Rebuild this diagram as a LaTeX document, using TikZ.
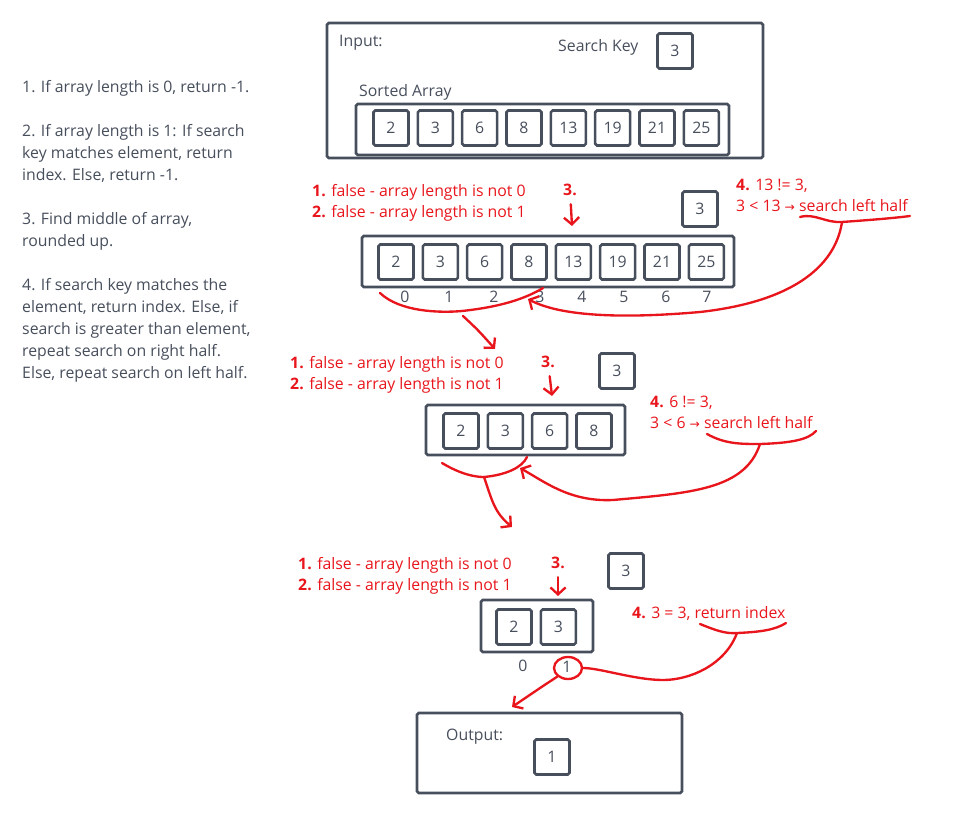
\documentclass[tikz,border=0pt]{standalone}
\usepackage{fontspec}
\setmainfont{Open Sans}
\newfontfamily\arrowfont{DejaVu Sans}
\usepackage{tikz}
\usetikzlibrary{positioning, arrows.meta, shapes.geometric}
\definecolor{ink}{HTML}{474E5C}
\definecolor{pen}{HTML}{E8161C}
\tikzstyle{every node}=[font=\fontsize{13.5}{18.8}\selectfont, text=ink]
\tikzstyle{frame} = [rectangle, rounded corners=1.5pt, draw=ink, line width=2.2pt, inner sep=0pt]
\tikzstyle{cell} = [frame, minimum width=1.05cm, minimum height=1.05cm]
\tikzstyle{txt} = [anchor=west, inner sep=0pt]
\tikzstyle{note} = [anchor=west, align=left, inner sep=0pt, text=pen, font=\fontsize{13.5}{18}\selectfont]
\tikzstyle{redline} = [draw=pen, line width=2pt, line cap=round, line join=round]
\tikzstyle{redarrow} = [redline, -{Straight Barb[length=6pt, width=13pt]}]

\begin{document}
\begin{tikzpicture}[x=0.03cm, y=-0.03cm, node distance=1.33cm]
	\useasboundingbox (0,0) rectangle (962,817);
	%steps
	\node (steps) [txt, anchor=north west, align=left] at (22,80) {1. If array length is 0, return -1.\\[18.8pt]
		2. If array length is 1: If search\\key matches element, return\\index. Else, return -1.\\[18.8pt]
		3. Find middle of array,\\rounded up.\\[18.8pt]
		4. If search key matches the\\element, return index. Else, if\\search is greater than element,\\repeat search on right half.\\Else, repeat search on left half.};
	
	%input
	\node (inbox) [frame, minimum width=13.08cm, minimum height=4.05cm] at (545,90.5) {};
	\node (inlbl) [txt] at (339,43) {Input:};
	\node (keylbl) [txt] at (558,47) {Search Key};
	\node (key1) [cell] at (675,51) {3};
	\node (sortlbl) [txt] at (359,92) {Sorted Array};
	\node (arr1) [frame, minimum width=11.19cm, minimum height=1.53cm] at (542.5,129.5) {};
	\node (a1) [cell] at (391,128) {2};
	\node (a2) [cell, right of=a1] {3};
	\node (a3) [cell, right of=a2] {6};
	\node (a4) [cell, right of=a3] {8};
	\node (a5) [cell, right of=a4] {13};
	\node (a6) [cell, right of=a5] {19};
	\node (a7) [cell, right of=a6] {21};
	\node (a8) [cell, right of=a7] {25};
	
	%first pass
	\node (chk2) [note] at (312,202.5) {\textbf{1.} false - array length is not 0\\\textbf{2.} false - array length is not 1};
	\node (mid2) [note, anchor=center] at (570,190) {\textbf{3.}};
	\node (key2) [cell] at (700,209) {3};
	\node (cmp2) [note] at (736,195) {\textbf{4.} 13 != 3,\\3 < 13 {\arrowfont\fontsize{10.5}{18}\selectfont →} search left half};
	\node (arr2) [frame, minimum width=11.16cm, minimum height=1.53cm] at (548,261.5) {};
	\node (b1) [cell] at (396,262) {2};
	\node (b2) [cell, right of=b1] {3};
	\node (b3) [cell, right of=b2] {6};
	\node (b4) [cell, right of=b3] {8};
	\node (b5) [cell, right of=b4] {13};
	\node (b6) [cell, right of=b5] {19};
	\node (b7) [cell, right of=b6] {21};
	\node (b8) [cell, right of=b7] {25};
	\foreach \k/\x in {0/405,1/449,2/494,3/540,4/582,5/624,6/666,7/707}
		\node (n\k) [inner sep=0pt] at (\x,297) {\k};
	\coordinate (tip2) at (572,226);
	\coordinate (u2) at (842,222);
	\coordinate (back2) at (528,299);
	\coordinate (br2a) at (380,293);
	\coordinate (br2b) at (543,288);
	\coordinate (br2m) at (463,316);
	\coordinate (go2) at (495,349);
	\draw [redarrow, shorten <=7pt] (mid2) -- (tip2);
	\draw [redline] (800,217) .. controls (815,213) and (825,223) .. (u2) .. controls (870,220) and (895,218) .. (910,216);
	\draw [redarrow] (u2) .. controls (835,268) and (790,302) .. (700,312) .. controls (620,319) and (560,316) .. (back2);
	\draw [redline] (br2a) .. controls (400,312) and (440,313) .. (462,311) .. controls (490,308) and (520,302) .. (br2b);
	\draw [redarrow] (br2m) .. controls (478,330) .. (go2);
	
	%second pass
	\node (chk3) [note] at (290,375) {\textbf{1.} false - array length is not 0\\\textbf{2.} false - array length is not 1};
	\node (mid3) [note, anchor=center] at (548,362) {\textbf{3.}};
	\node (key3) [cell] at (617,371) {3};
	\node (cmp3) [note] at (650,412) {\textbf{4.} 6 != 3,\\3 < 6 {\arrowfont\fontsize{10.5}{18}\selectfont →} search left half};
	\node (arr3) [frame, minimum width=5.97cm, minimum height=1.5cm] at (525.5,430) {};
	\node (c1) [cell] at (461,431) {2};
	\node (c2) [cell, right of=c1] {3};
	\node (c3) [cell, right of=c2] {6};
	\node (c4) [cell, right of=c3] {8};
	\coordinate (tip3) at (552,396);
	\coordinate (u3) at (760,444);
	\coordinate (br3a) at (442,463);
	\coordinate (br3b) at (527,457);
	\coordinate (br3m) at (484,477);
	\coordinate (back3) at (520,468);
	\coordinate (go3) at (512,527);
	\draw [redarrow, shorten <=7pt] (mid3) -- (tip3);
	\draw [redline] (707,434) .. controls (725,444) and (740,444) .. (u3) .. controls (790,443) and (808,440) .. (816,431);
	\draw [redarrow] (u3) .. controls (745,490) and (690,493) .. (613,500) .. controls (570,502) and (545,482) .. (back3);
	\draw [redline] (br3a) .. controls (462,475) and (476,477) .. (br3m) .. controls (505,475) and (522,468) .. (br3b);
	\draw [redarrow] (br3m) .. controls (492,500) and (494,512) .. (go3);
	
	%third pass
	\node (chk4) [note] at (298,575.5) {\textbf{1.} false - array length is not 0\\\textbf{2.} false - array length is not 1};
	\node (mid4) [note, anchor=center] at (558,563) {\textbf{3.}};
	\node (key4) [cell] at (626,571) {3};
	\node (cmp4) [note] at (632,614) {\textbf{4.} 3 = 3, return index};
	\node (arr4) [frame, minimum width=3.36cm, minimum height=1.56cm] at (537,626) {};
	\node (d1) [cell] at (514,627) {2};
	\node (d2) [cell, right of=d1] {3};
	\node (m0) [inner sep=0pt] at (523,666) {0};
	\node (m1) [inner sep=0pt] at (567,667) {1};
	\node (ring) [ellipse, draw=pen, line width=2pt, minimum width=0.84cm, minimum height=0.66cm, inner sep=0pt] at (568,668) {};
	\coordinate (tip4) at (558,596);
	\coordinate (u4) at (737,633);
	\coordinate (go4) at (512,707);
	\draw [redarrow, shorten <=7pt] (mid4) -- (tip4);
	\draw [redline] (700,624) .. controls (715,630) and (725,634) .. (u4) .. controls (760,632) and (775,630) .. (786,623);
	\draw [redline] (u4) .. controls (725,665) and (690,680) .. (663,680) .. controls (635,680) and (600,668) .. (ring.east);
	\draw [redarrow] (ring.south west) .. controls (540,688) .. (go4);
	
	%output
	\node (outbox) [frame, minimum width=7.95cm, minimum height=2.4cm] at (549.5,753) {};
	\node (outlbl) [txt] at (446,737) {Output:};
	\node (res) [cell] at (552,757) {1};
\end{tikzpicture}
\end{document}
